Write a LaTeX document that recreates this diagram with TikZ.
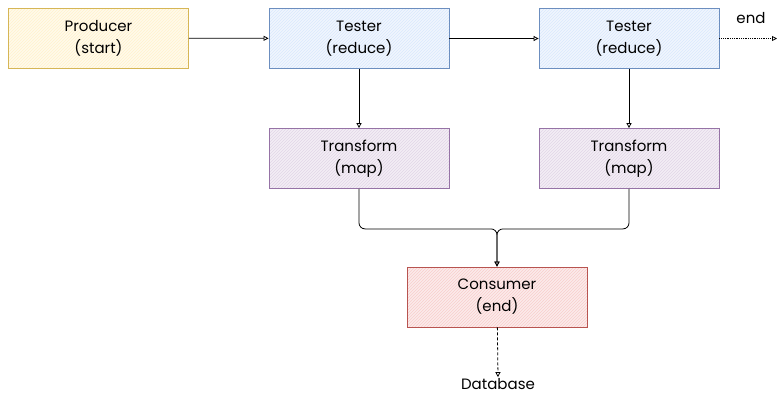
\documentclass[tikz,border=0pt]{standalone}
\usepackage{fontspec}
\setmainfont{Poppins}
\usetikzlibrary{arrows.meta,patterns}
\definecolor{ystroke}{HTML}{D6B656}\definecolor{yfill}{HTML}{FFF2CC}
\definecolor{bstroke}{HTML}{6C8EBF}\definecolor{bfill}{HTML}{DAE8FC}
\definecolor{pstroke}{HTML}{9673A6}\definecolor{pfill}{HTML}{E1D5E7}
\definecolor{rstroke}{HTML}{B85450}\definecolor{rfill}{HTML}{F8CECC}
\tikzset{
  boxbase/.style={minimum width=180pt,minimum height=60pt,align=center,inner sep=0pt,font=\fontsize{15}{22}\selectfont,line width=0.8pt},
  ybox/.style={boxbase,draw=ystroke,preaction={fill=yfill!40},pattern=north east lines,pattern color=yfill},
  bbox/.style={boxbase,draw=bstroke,preaction={fill=bfill!40},pattern=north east lines,pattern color=bfill},
  pbox/.style={boxbase,draw=pstroke,preaction={fill=pfill!40},pattern=north east lines,pattern color=pfill},
  rbox/.style={boxbase,draw=rstroke,preaction={fill=rfill!40},pattern=north east lines,pattern color=rfill},
  conn/.style={draw=black,line width=0.8pt,-{Triangle[open,length=5pt,width=5pt]}},
  lbl/.style={font=\fontsize{15}{18}\selectfont,inner sep=1pt}
}
\begin{document}
\begin{tikzpicture}[x=1pt,y=-1pt]
\useasboundingbox (0,0) rectangle (780,400);
\node[ybox] (prod) at (98.5,38) {Producer\\(start)};
\node[bbox] (t1) at (359,38.5) {Tester\\(reduce)};
\node[bbox] (t2) at (629,38.5) {Tester\\(reduce)};
\node[pbox] (m1) at (359,158.5) {Transform\\(map)};
\node[pbox] (m2) at (629,158.5) {Transform\\(map)};
\node[rbox] (cons) at (497,297) {Consumer\\(end)};
\node[lbl] (db) at (498,384) {Database};
\node[lbl] (endl) at (751,18) {end};
\coordinate (endpt) at (777,38.5);
\draw[conn] (prod) -- (t1);
\draw[conn] (t1) -- (t2);
\draw[conn,densely dotted] (t2) -- (endpt);
\draw[conn] (t1) -- (m1);
\draw[conn] (t2) -- (m2);
\draw[conn,rounded corners=6pt] (m1.south) -- ++(0,40) -| (cons.north);
\draw[conn,rounded corners=6pt] (m2.south) -- ++(0,40) -| (cons.north);
\draw[conn,densely dashed] (cons) -- (db.north);
\end{tikzpicture}
\end{document}
